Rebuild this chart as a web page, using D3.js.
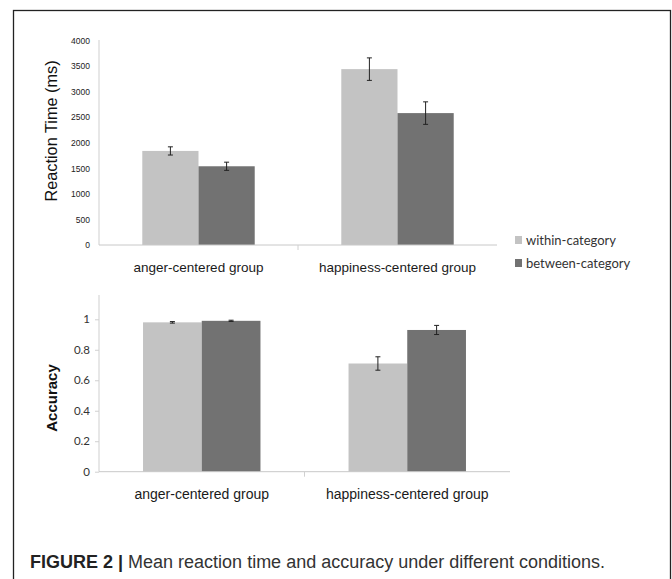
<!DOCTYPE html>
<html><head><meta charset="utf-8">
<script src="https://cdn.jsdelivr.net/npm/d3@7"></script>
<style>body{margin:0;background:#fff}svg{display:block}</style>
</head><body>
<svg id="chart" width="672" height="579"></svg>
<script>
const groups = ["anger-centered group", "happiness-centered group"];
const series = ["within-category", "between-category"];
const rtMeans = [[1840, 1540], [3440, 2580]];
const rtErrors = [[80, 80], [220, 220]];
const accMeans = [[0.98, 0.99], [0.71, 0.93]];
const accErrors = [[0.005, 0.004], [0.044, 0.03]];
const rtTicks = [0, 500, 1000, 1500, 2000, 2500, 3000, 3500, 4000];
const accTicks = [0, 0.2, 0.4, 0.6, 0.8, 1];
const colors = ["#c3c3c3", "#727272"];
const caption = ["FIGURE 2 | ", "Mean reaction time and accuracy under different conditions."];

const svg = d3.select("#chart");
svg.append("rect").attr("x", 13.5).attr("y", 10.5).attr("width", 657).attr("height", 620)
  .attr("fill", "none").attr("stroke", "#222").attr("stroke-width", 1.3);

function panel(opt) {
  const x = d3.scaleBand().domain(groups).range(opt.xr);
  const xi = d3.scaleBand().domain(series).range([0, x.bandwidth()]).paddingOuter(opt.pad);
  const y = d3.scaleLinear().domain(opt.dom).range(opt.yr);
  const g = svg.append("g");
  g.append("line").attr("x1", opt.xr[0]).attr("x2", opt.xr[0]).attr("y1", opt.axTop).attr("y2", opt.yr[0])
    .attr("stroke", "#cfcfcf").attr("stroke-width", 1);
  const ya = g.append("g").attr("transform", `translate(${opt.xr[0]},0)`)
    .call(d3.axisLeft(y).tickValues(opt.ticks).tickSize(opt.tickLen).tickPadding(opt.tickPad).tickFormat(opt.fmt));
  ya.select(".domain").remove();
  ya.selectAll(".tick line").attr("stroke", "#d0d0d0");
  ya.selectAll("text").attr("font-family", opt.tickFont).attr("font-size", opt.tickSize).attr("fill", opt.tickColor);
  groups.forEach((gname, gi) => {
    series.forEach((s, si) => {
      const v = opt.means[gi][si], e = opt.errs[gi][si];
      const bx = x(gname) + xi(s);
      g.append("rect").attr("x", bx).attr("y", y(v)).attr("width", xi.bandwidth()).attr("height", y(0) - y(v))
        .attr("fill", colors[si]);
      const cx = bx + xi.bandwidth() / 2;
      g.append("line").attr("x1", cx).attr("x2", cx).attr("y1", y(v + e)).attr("y2", y(v - e))
        .attr("stroke", "#222").attr("stroke-width", 1);
      [v + e, v - e].forEach(t => g.append("line").attr("x1", cx - 2.5).attr("x2", cx + 2.5)
        .attr("y1", y(t)).attr("y2", y(t)).attr("stroke", "#222").attr("stroke-width", 1));
    });
  });
  const xa = g.append("g").attr("transform", `translate(0,${opt.yr[0]})`)
    .call(d3.axisBottom(x).tickSize(0).tickPadding(opt.labPad));
  xa.select(".domain").attr("stroke", "#c8c8c8").attr("d", `M${opt.xr[0]},0H${opt.xr[1]}`);
  xa.selectAll("text").attr("font-family", "'Liberation Sans', Arial, sans-serif")
    .attr("font-size", opt.labSize).attr("fill", "#1a1a1a").attr("font-weight", opt.labWeight);
  g.append("line").attr("x1", x(groups[1])).attr("x2", x(groups[1])).attr("y1", opt.yr[0]).attr("y2", opt.yr[0] + 5)
    .attr("stroke", "#d0d0d0");
  g.append("text").attr("transform", `translate(${opt.titleX},${opt.titleY}) rotate(-90)`)
    .attr("text-anchor", "middle").attr("dominant-baseline", "central")
    .attr("font-family", "'Liberation Sans', Arial, sans-serif").attr("font-size", opt.titleSize)
    .attr("font-weight", opt.titleWeight).attr("fill", "#111").text(opt.title);
  return g;
}

panel({ xr: [99, 497], yr: [245, 40.5], dom: [0, 4000], axTop: 40, pad: 0.77,
  means: rtMeans, errs: rtErrors, ticks: rtTicks, fmt: d3.format("d"), tickLen: 0, tickPad: 9,
  tickFont: "'Liberation Sans', Arial, sans-serif", tickSize: 8.5, tickColor: "#222",
  labPad: 17, labSize: 13.5, labWeight: "normal",
  title: "Reaction Time (ms)", titleX: 51, titleY: 131, titleSize: 16.3, titleWeight: "normal" });

panel({ xr: [99, 510], yr: [471.7, 319.3], dom: [0, 1], axTop: 295, pad: 0.75,
  means: accMeans, errs: accErrors, ticks: accTicks, fmt: d => d === 0 || d === 1 ? String(d) : d3.format(".1f")(d),
  tickLen: 4, tickPad: 5,
  tickFont: "Lato, 'Open Sans', sans-serif", tickSize: 11.5, tickColor: "#333",
  labPad: 17, labSize: 14, labWeight: "normal",
  title: "Accuracy", titleX: 51, titleY: 398, titleSize: 15, titleWeight: "bold" });

const lg = svg.append("g").attr("transform", "translate(515,240)");
series.forEach((s, i) => {
  const row = lg.append("g").attr("transform", `translate(0,${i * 23})`);
  row.append("rect").attr("x", 0).attr("y", -4).attr("width", 7).attr("height", 8).attr("fill", colors[i]);
  row.append("text").attr("x", 11).attr("y", 0).attr("dominant-baseline", "central")
    .attr("font-family", "Lato, 'Open Sans', sans-serif").attr("font-size", 13).attr("fill", "#333").text(s);
});

const cap = svg.append("text").attr("x", 30).attr("y", 568)
  .attr("font-family", "'Liberation Sans', Arial, sans-serif").attr("font-size", 18).attr("fill", "#333");
cap.append("tspan").attr("font-weight", "bold").attr("fill", "#222").text(caption[0]);
cap.append("tspan").text(caption[1]);
</script>
</body></html>
